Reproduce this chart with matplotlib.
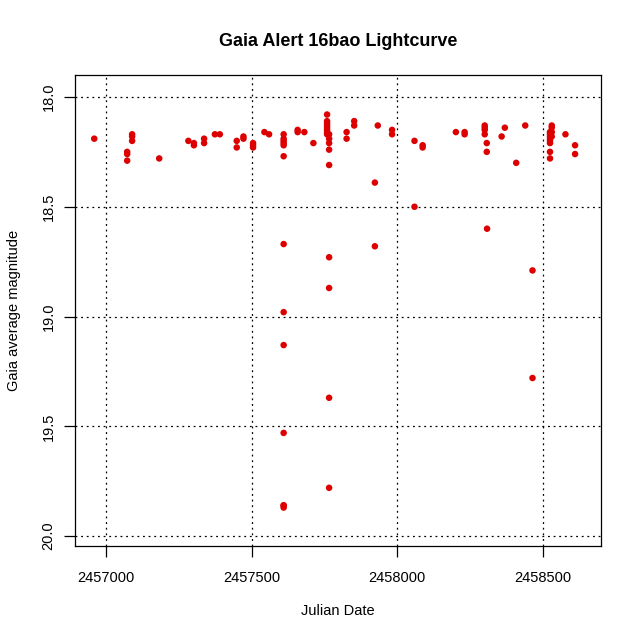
import matplotlib
matplotlib.use("Agg")
import matplotlib.pyplot as plt
import numpy as np

plt.rcParams["font.family"] = ["Liberation Sans", "DejaVu Sans"]

jd = [
    2456960,
    2457073, 2457073, 2457073,
    2457090, 2457090, 2457090,
    2457183,
    2457283,
    2457302, 2457302,
    2457337, 2457337,
    2457374, 2457391,
    2457449, 2457449,
    2457472, 2457472,
    2457505, 2457505, 2457505,
    2457544, 2457560,
    2457610, 2457610, 2457610, 2457610, 2457610, 2457610,
    2457610, 2457610, 2457610, 2457610, 2457610, 2457610, 2457610,
    2457658, 2457658,
    2457681,
    2457712,
    2457759, 2457759, 2457759, 2457759, 2457759, 2457759, 2457759, 2457759,
    2457766, 2457766, 2457766, 2457766, 2457766,
    2457766, 2457766, 2457766, 2457766,
    2457826, 2457826,
    2457852, 2457852,
    2457923, 2457923, 2457933,
    2457982, 2457982,
    2458059, 2458059,
    2458087, 2458087,
    2458201,
    2458231, 2458231,
    2458300, 2458300, 2458300, 2458300,
    2458307, 2458307, 2458308,
    2458358, 2458369,
    2458408,
    2458439,
    2458464, 2458464,
    2458530, 2458530, 2458524, 2458530, 2458524, 2458530, 2458524,
    2458524, 2458524, 2458524, 2458524, 2458524,
    2458577,
    2458610, 2458610,
]
mag = [
    18.19,
    18.25, 18.26, 18.29,
    18.17, 18.18, 18.20,
    18.28,
    18.20,
    18.21, 18.22,
    18.19, 18.21,
    18.17, 18.17,
    18.20, 18.23,
    18.18, 18.19,
    18.21, 18.22, 18.23,
    18.16, 18.17,
    18.17, 18.19, 18.20, 18.21, 18.22, 18.27,
    18.67, 18.98, 19.13, 19.53, 19.86, 19.87, 19.86,
    18.15, 18.16,
    18.16,
    18.21,
    18.08, 18.11, 18.12, 18.13, 18.14, 18.15, 18.16, 18.17,
    18.17, 18.19, 18.21, 18.24, 18.31,
    18.73, 18.87, 19.37, 19.78,
    18.16, 18.19,
    18.11, 18.13,
    18.39, 18.68, 18.13,
    18.15, 18.17,
    18.20, 18.50,
    18.22, 18.23,
    18.16,
    18.16, 18.17,
    18.13, 18.14, 18.15, 18.17,
    18.21, 18.25, 18.60,
    18.18, 18.14,
    18.30,
    18.13,
    18.79, 19.28,
    18.13, 18.14, 18.16, 18.16, 18.17, 18.18, 18.19,
    18.20, 18.21, 18.25, 18.28, 18.18,
    18.17,
    18.22, 18.26,
]

x_ticks = [2457000, 2457500, 2458000, 2458500]
y_ticks = [18.0, 18.5, 19.0, 19.5, 20.0]

fig = plt.figure(figsize=(6.4, 6.4), dpi=100)
ax = fig.add_axes([75 / 640, 1 - 546 / 640, (601 - 75) / 640, (546 - 75) / 640])

ax.scatter(jd, mag, s=22, color="#dd0000", edgecolors="none", zorder=3)

ax.set_xlim(2456894, 2458699)
ax.set_ylim(20.045, 17.90)
ax.set_xticks(x_ticks)
ax.set_xticklabels([str(t) for t in x_ticks])
ax.set_yticks(y_ticks)
ax.set_yticklabels([f"{t:.1f}" for t in y_ticks], rotation=90, va="center")
ax.tick_params(axis="both", length=8, width=0.9, labelsize=10.5, colors="black")
ax.tick_params(axis="x", pad=10)
ax.tick_params(axis="y", pad=6)
ax.grid(True, color="black", linestyle=(0, (1.5, 3)), linewidth=0.9)
for s in ax.spines.values():
    s.set_linewidth(0.9)

ax.set_xlabel("Julian Date", fontsize=10.5, labelpad=13.5)
ax.set_ylabel("Gaia average magnitude", fontsize=10.5, labelpad=15)
ax.set_title("Gaia Alert 16bao Lightcurve", fontsize=13, fontweight="bold", pad=21)

fig.savefig("out.png", dpi=100)
